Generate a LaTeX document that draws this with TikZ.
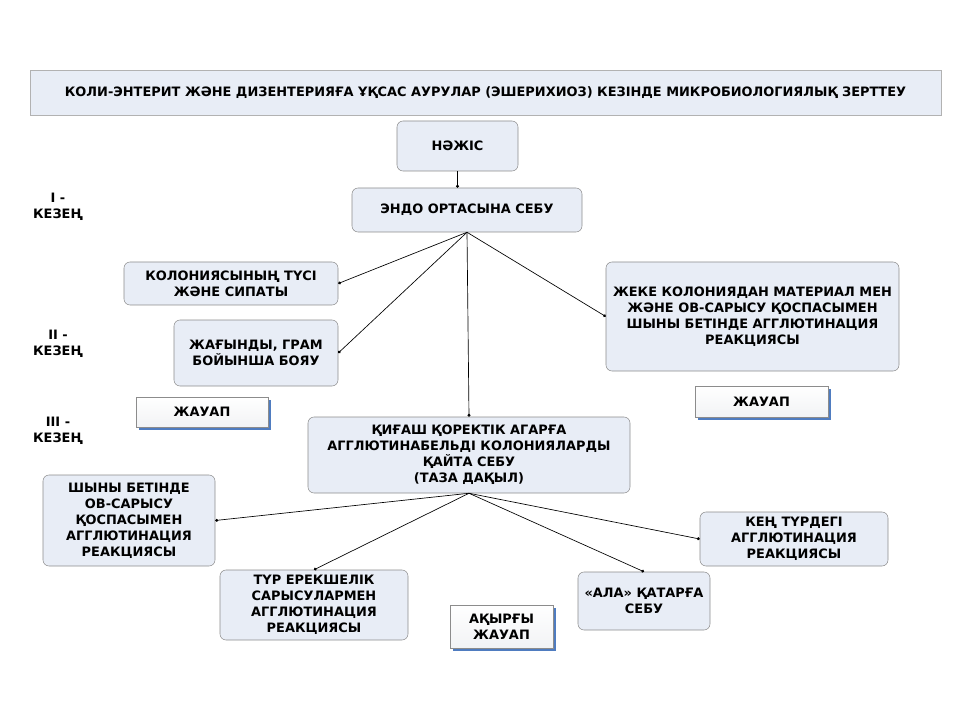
\documentclass[tikz,border=0pt]{standalone}
\usepackage{fontspec}
\setmainfont{DejaVu Sans}
\usepackage{tikz}
\usetikzlibrary{positioning, arrows.meta, shadows}

\definecolor{boxfill}{HTML}{E8EDF6}
\definecolor{boxline}{HTML}{8C8C8C}
\definecolor{shadowblue}{HTML}{4F7CC0}

\tikzset{
  txt/.style={font=\bfseries\fontsize{9.7}{12}\selectfont, align=center},
  box/.style={txt, draw=boxline, fill=boxfill, rounded corners=4.5pt, inner sep=2pt},
  answer/.style={txt, draw=boxline, top color=white, bottom color=boxfill!80!gray!30,
    drop shadow={shadow xshift=2.5pt, shadow yshift=-2.5pt, fill=shadowblue, opacity=1}},
  conn/.style={-{Circle[length=2.2pt]}, line width=0.5pt},
}

\begin{document}
\begin{tikzpicture}[x=0.75pt, y=-0.75pt]
    \useasboundingbox (0,0) rectangle (960,720);

    % Title
    \node[txt, draw=gray!60, fill=boxfill, minimum width=683pt, minimum height=33.75pt] (title) at (485.5,92.5)
      {КОЛИ-ЭНТЕРИТ ЖӘНЕ ДИЗЕНТЕРИЯҒА ҰҚСАС АУРУЛАР (ЭШЕРИХИОЗ) КЕЗІНДЕ МИКРОБИОЛОГИЯЛЫҚ ЗЕРТТЕУ};

    % Stages
    \foreach \n/\y in {I/207, II/344, III/431} {
      \node[txt] (stage\n) at (58,\y) {\n\ -\\КЕЗЕҢ};
    }

    % First stage
    \node[box, minimum width=90.75pt, minimum height=37.5pt] (nazhis) at (457.5,146) {НӘЖІС};
    \node[box, minimum width=172.5pt, minimum height=33pt] (endo) at (467,210) {ЭНДО ОРТАСЫНА СЕБУ};

    % Second stage
    \node[box, minimum width=160.5pt, minimum height=32.25pt] (kolon) at (231,283.5) {КОЛОНИЯСЫНЫҢ ТҮСІ\\ЖӘНЕ СИПАТЫ};
    \node[box, minimum width=123pt, minimum height=49.5pt] (zhagyn) at (256,353) {ЖАҒЫНДЫ, ГРАМ\\ БОЙЫНША БОЯУ};
    \node[answer, minimum width=99pt, minimum height=22.5pt] (zhauapL) at (202,412) {ЖАУАП};
    \node[box, minimum width=219.75pt, minimum height=81.75pt] (zheke) at (752.5,316.5)
      {ЖЕКЕ КОЛОНИЯДАН МАТЕРИАЛ МЕН\\ЖӘНЕ ОВ-САРЫСУ ҚОСПАСЫМЕН\\ШЫНЫ БЕТІНДЕ АГГЛЮТИНАЦИЯ\\РЕАКЦИЯСЫ};
    \node[answer, minimum width=99.75pt, minimum height=23.25pt] (zhauapR) at (761.5,401.5) {ЖАУАП};

    % Third stage
    \node[box, minimum width=241.5pt, minimum height=57pt] (kigash) at (469,455)
      {ҚИҒАШ ҚОРЕКТІК АГАРҒА\\АГГЛЮТИНАБЕЛЬДІ КОЛОНИЯЛАРДЫ\\ҚАЙТА СЕБУ\\(ТАЗА ДАҚЫЛ)};
    \node[box, minimum width=129pt, minimum height=68.25pt] (shyny) at (129,520.5)
      {ШЫНЫ БЕТІНДЕ\\ОВ-САРЫСУ\\ҚОСПАСЫМЕН\\АГГЛЮТИНАЦИЯ\\РЕАКЦИЯСЫ};
    \node[box, minimum width=141pt, minimum height=52.5pt] (tur) at (314,605)
      {ТҮР ЕРЕКШЕЛІК\\САРЫСУЛАРМЕН\\АГГЛЮТИНАЦИЯ\\РЕАКЦИЯСЫ};
    \node[box, minimum width=99pt, minimum height=43.5pt] (ala) at (644,601) {«АЛА» ҚАТАРҒА\\СЕБУ};
    \node[box, minimum width=141pt, minimum height=40.5pt] (ken) at (794,539)
      {КЕҢ ТҮРДЕГІ\\АГГЛЮТИНАЦИЯ\\РЕАКЦИЯСЫ};
    \node[answer, minimum width=77.25pt, minimum height=32.25pt] (akyrgy) at (501.5,626.5) {АҚЫРҒЫ\\ЖАУАП};

    % Connectors
    \draw[conn] (nazhis.south) -- (nazhis.south |- endo.north);
    \foreach \t/\a in {kolon/east, zhagyn/east, zheke/west, kigash/north} {
      \draw[conn] (endo.south) -- (\t.\a);
    }
    \foreach \t/\a in {shyny/east, tur/north, ala/north, ken/west} {
      \draw[conn] (kigash.south) -- (\t.\a);
    }
\end{tikzpicture}
\end{document}
